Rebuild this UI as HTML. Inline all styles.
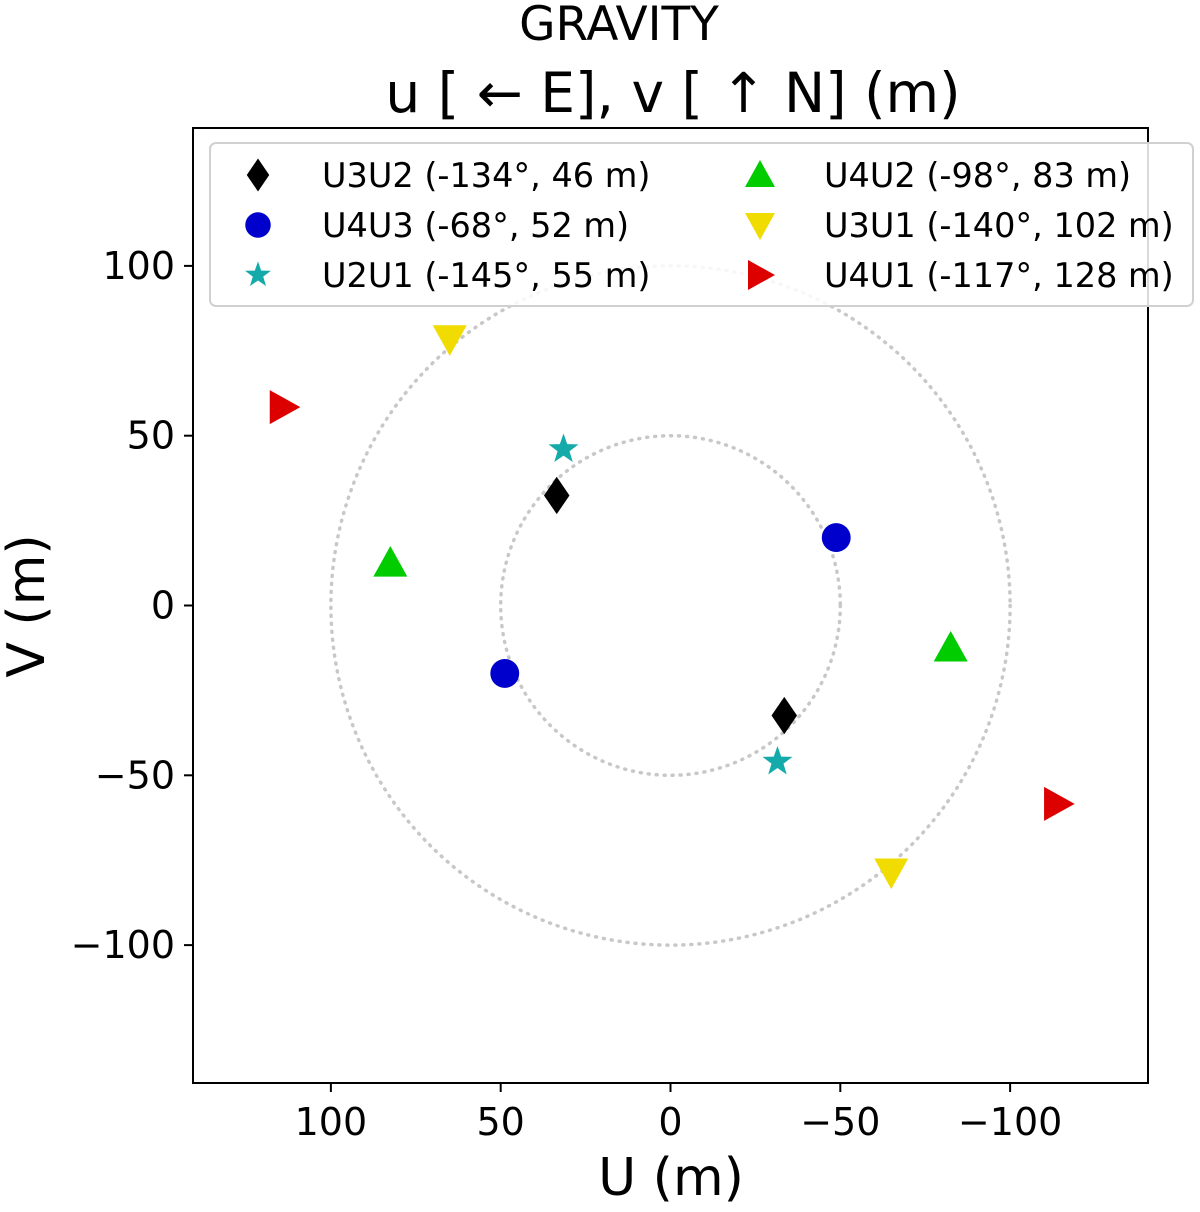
<!DOCTYPE html>
<html><head><meta charset="utf-8"><style>
body{margin:0;background:#fff;}
svg text{font-family:"DejaVu Sans","Liberation Sans",sans-serif;fill:#000;}
</style></head><body>
<svg id="chart" width="1200" height="1207" xmlns="http://www.w3.org/2000/svg">
<text x="619" y="40" font-size="47" text-anchor="middle">GRAVITY</text>
<text x="673" y="112" font-size="55" text-anchor="middle">u [ ← E], v [ ↑ N] (m)</text>
<g id="plot"></g>
<text x="671" y="1195" font-size="52" text-anchor="middle">U (m)</text>
<text transform="translate(44,606) rotate(-90)" font-size="52" text-anchor="middle">V (m)</text>
</svg>
<script>
const names=["U3U2 (-134°, 46 m)","U4U3 (-68°, 52 m)","U2U1 (-145°, 55 m)","U4U2 (-98°, 83 m)","U3U1 (-140°, 102 m)","U4U1 (-117°, 128 m)"];
const uVals=[33.5,-48.8,31.5,82.5,65,114];
const vVals=[32.4,20,46,12.5,78.5,58.4];
const markers=["diamond","circle","star","up","down","right"];
const colors=["#000000","#0000cc","#14aaaa","#00cc00","#f0dc00","#dd0000"];
const xTicks=[100,50,0,-50,-100];
const yTicks=[100,50,0,-50,-100];
const rings=[50,100];
const L=193,R=1148,T=128,B=1083,LIM=140.6;
const sx=u=>L+(LIM-u)/(2*LIM)*(R-L);
const sy=v=>T+(LIM-v)/(2*LIM)*(B-T);
const NS="http://www.w3.org/2000/svg";
const g=document.getElementById('plot');
function mk(t,a,p){const e=document.createElementNS(NS,t);for(const k in a)e.setAttribute(k,a[k]);(p||g).appendChild(e);return e;}
function lab(s){return s<0?"\u2212"+(-s):""+s;}
rings.forEach(r=>{const c=mk('ellipse',{cx:sx(0),cy:sy(0),rx:sx(0)-sx(r),ry:sy(-r)-sy(0),fill:'none',stroke:'#c8c8c8','stroke-width':3.5,'stroke-dasharray':'1 7','stroke-linecap':'round'});

});
function marker(type,x,y,col,s){
 let e;
 if(type==='circle')e=mk('circle',{cx:x,cy:y,r:s*0.85,fill:col});
 else{let pts;
  if(type==='diamond')pts=[[0,-1.1],[0.75,0],[0,1.1],[-0.75,0]];
  else if(type==='up')pts=[[0,-1],[1,0.8],[-1,0.8]];
  else if(type==='down')pts=[[0,1],[1,-0.8],[-1,-0.8]];
  else if(type==='right')pts=[[1,0],[-0.8,1],[-0.8,-1]];
  else{pts=[];for(let i=0;i<10;i++){const a=-Math.PI/2+i*Math.PI/5,r=i%2?0.42:1.05;pts.push([Math.cos(a)*r,Math.sin(a)*r]);}}
  e=mk('polygon',{points:pts.map(p=>(x+p[0]*s)+','+(y+p[1]*s)).join(' '),fill:col});}
 return e;}
for(let i=0;i<names.length;i++){
 [[uVals[i],vVals[i]],[-uVals[i],-vVals[i]]].forEach((p,j)=>{
  const m=marker(markers[i],sx(p[0]),sy(p[1]),colors[i],markers[i]==='star'?15:17);
  
  });
}
const frame=mk('rect',{x:L,y:T,width:R-L,height:B-T,fill:'none',stroke:'#000','stroke-width':2});


xTicks.forEach(t=>{mk('line',{x1:sx(t),x2:sx(t),y1:B,y2:B+9,stroke:'#000','stroke-width':2});
 const e=mk('text',{x:sx(t),y:B+52,'font-size':38,'text-anchor':'middle'});e.textContent=lab(t);
 
 });
yTicks.forEach(t=>{mk('line',{x1:L-9,x2:L,y1:sy(t),y2:sy(t),stroke:'#000','stroke-width':2});
 const e=mk('text',{x:L-18,y:sy(t)+13,'font-size':38,'text-anchor':'end'});e.textContent=lab(t);
 
 });
const lg=mk('g',{});


mk('rect',{x:210,y:143,width:983,height:163,rx:6,fill:'rgba(255,255,255,0.85)',stroke:'#d0d0d0','stroke-width':2},lg);
for(let i=0;i<names.length;i++){
 const col=Math.floor(i/3),row=i%3;
 const mx=258+col*502,my=175+row*50;
 const m=marker(markers[i],mx,my,colors[i],markers[i]==='star'?13:15);lg.appendChild(m);
 const t=mk('text',{x:322+col*502,y:my+12,'font-size':33.5},lg);t.textContent=names[i];
 
 
}
</script>
</body></html>
